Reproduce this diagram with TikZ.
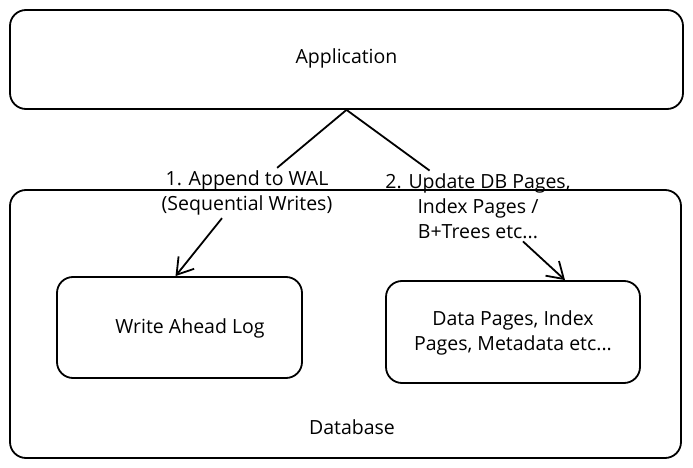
\documentclass[tikz,border=0pt]{standalone}
\usepackage{fontspec}
\setmainfont{Open Sans}
\usetikzlibrary{calc,shapes,positioning}
\usetikzlibrary{arrows.meta}
\tikzset{>={Straight Barb[width=7mm,length=5.5mm]}}

\begin{document}
\begin{tikzpicture}[x=1pt, y=-1pt, line width=1.8pt]
          \tikzstyle{bnode} = [draw, rectangle, rounded corners=16pt, inner sep = 0pt, align=center]
          \tikzstyle{tnode} = [inner sep = 2pt, align=center, font=\fontsize{19.5}{25}\selectfont]
          \useasboundingbox (0, 0) rectangle (693, 468);

          \node[bnode, minimum width=673pt, minimum height=99pt] (app) at (346.5, 59.5) {};
          \node[bnode, minimum width=671pt, minimum height=268pt] (db) at (345.5, 324) {};
          \node[bnode, minimum width=245pt, minimum height=101pt] (wal) at (179.5, 327.5) {};
          \node[bnode, minimum width=254pt, minimum height=102pt] (data) at (513, 332) {};

          \node[tnode] (apptxt) at (346.5, 58) {Application};
          \node[tnode] (dbtxt) at (352, 427) {Database};
          \node[tnode] (waltxt) at (190, 328) {Write Ahead Log};
          \node[tnode] (datatxt) at (513, 333) {Data Pages, Index\\Pages, Metadata etc...};

          \node[tnode] (appendlbl) at (247, 193) {1. Append to WAL\\(Sequential Writes)};
          \node[tnode] (updatelbl) at (478, 206) {2. Update DB Pages,\\Index Pages /\\B+Trees etc...};

          \draw[-] (app.south) to (appendlbl);
          \draw[->] ([xshift=-25pt]appendlbl.south) to ([xshift=-4pt]wal.north);
          \draw[-] (app.south) to (updatelbl);
          \draw[->] ([xshift=45pt]updatelbl.south) to ([xshift=52pt]data.north);
        \end{tikzpicture}
\end{document}
